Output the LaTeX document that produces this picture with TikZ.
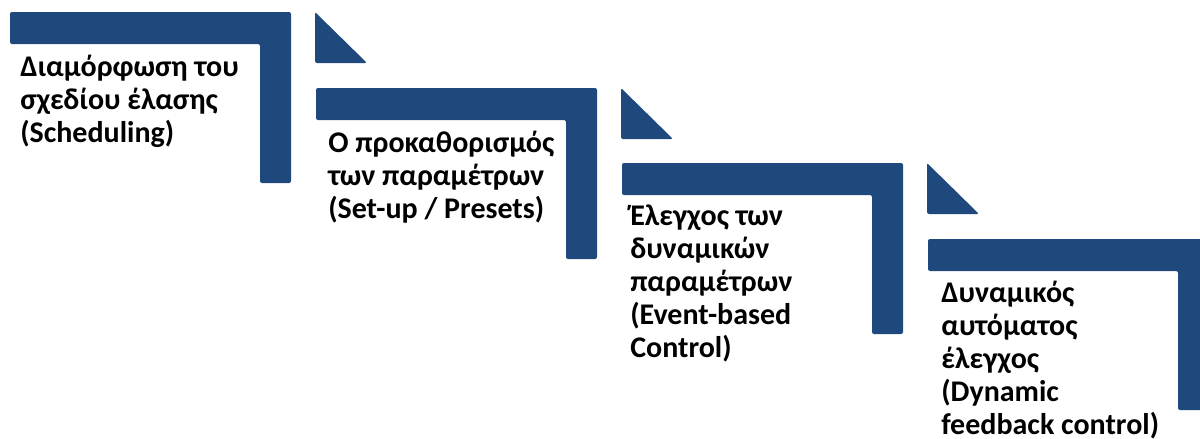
\documentclass[tikz,border=0pt]{standalone}
\usepackage{fontspec}
\setmainfont{Carlito}
\begin{document}
\begin{tikzpicture}[x=0.75pt,y=-0.75pt,
  stairfill/.style={fill=stairblue, rounded corners=1.5pt},
  % the base anchor of a multi-line node sits on its last line
  label/.style={anchor=base west, inner sep=0pt, align=left, text=black,
    font=\bfseries\fontsize{22.5}{24.75}\selectfont},
  stair/.pic={
    \fill[stairfill] (0,0) -- (281,0) -- (281,171) -- (250,171) -- (250,32) -- (0,32) -- cycle;
  },
  wedge/.pic={
    \fill[stairfill] (0,0) -- (0,51) -- (52,51) -- cycle;
  }]
\definecolor{stairblue}{HTML}{1F497D}
\useasboundingbox (0,0) rectangle (1200,439);
\clip (0,0) rectangle (1200,439);

% four descending steps, each followed by a small wedge
\pic at (10,12)  {stair};
\pic at (315,12) {wedge};
\pic at (316,88) {stair};
\pic at (621,88) {wedge};
\pic at (622,163) {stair};
\pic at (927,163) {wedge};
\pic at (928,239) {stair};

% step captions
\node[label] (t1) at (20,142)  {Διαμόρφωση του\\σχεδίου έλασης\\(Scheduling)};
\node[label] (t2) at (328,218) {Ο προκαθορισμός\\των παραμέτρων\\(Set-up / Presets)};
\node[label] (t3) at (630,357) {Έλεγχος των\\δυναμικών\\παραμέτρων\\(Event-based\\Control)};
\node[label] (t4) at (941,434) {Δυναμικός\\αυτόματος\\έλεγχος\\(Dynamic\\feedback control)};
\end{tikzpicture}
\end{document}
